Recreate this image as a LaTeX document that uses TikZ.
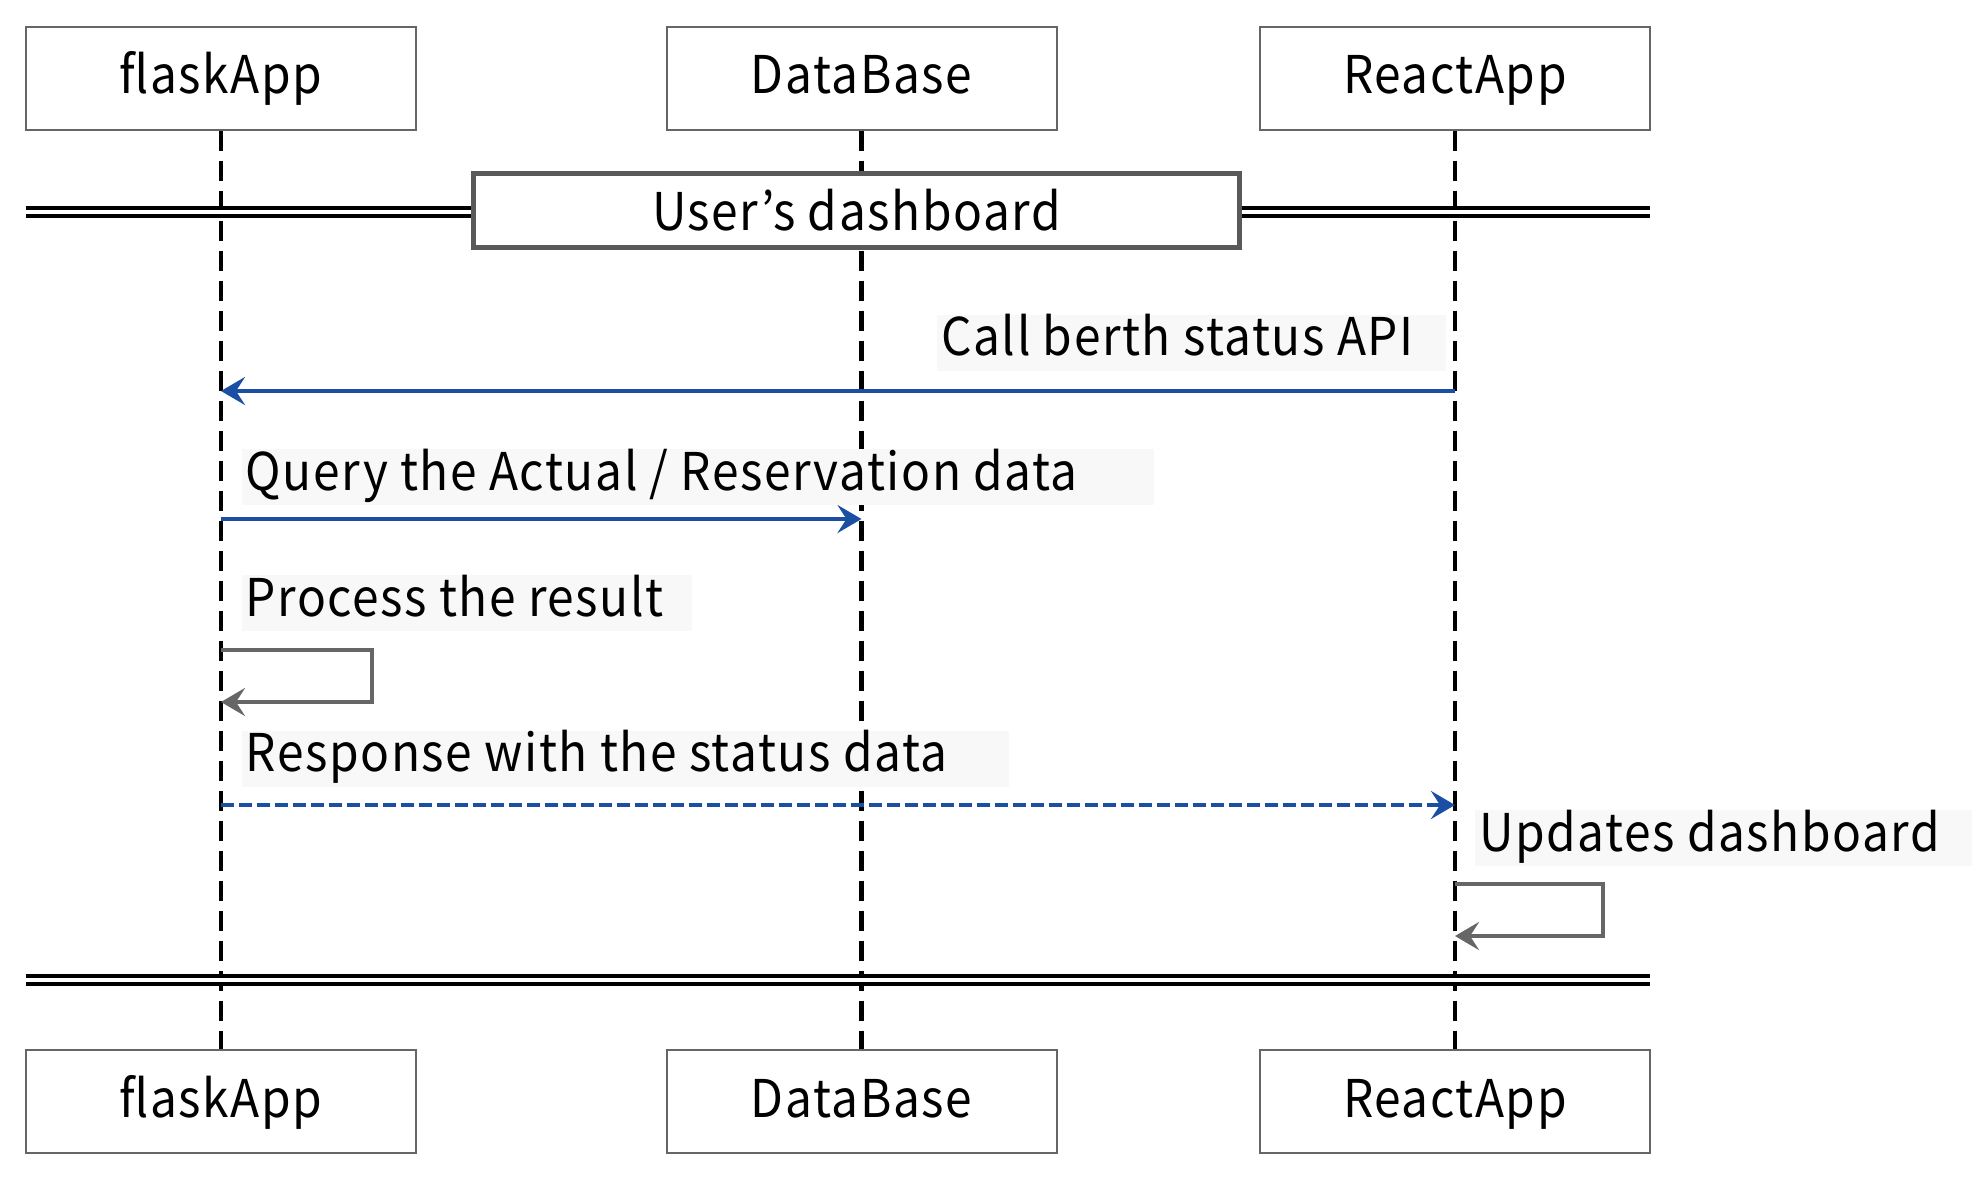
\documentclass[tikz,border=0pt]{standalone}
\usepackage{fontspec}
\setmainfont{Noto Sans CJK JP}[LetterSpace=3,FakeStretch=0.92]
\usetikzlibrary{arrows.meta}

\definecolor{boxgray}{HTML}{666666}
\definecolor{framegray}{HTML}{595959}
\definecolor{msgblue}{HTML}{1A4FA3}
\definecolor{labelbg}{HTML}{F8F8F8}

\tikzset{
  txt/.style={font=\fontsize{26}{30}\selectfont},
  actor/.style={txt, draw=boxgray, line width=1pt, fill=white,
    minimum width=195pt, minimum height=51.5pt, text height=20pt, text depth=4.5pt},
  lifeline/.style={draw=black, line width=2.2pt, dash pattern=on 10pt off 5pt},
  frame/.style={draw=black, line width=2pt, double=white, double distance=2pt},
  framebox/.style={txt, draw=framegray, line width=2.5pt, fill=white,
    minimum width=383pt, minimum height=37pt},
  tip/.style={-{Stealth[length=12pt,width=14pt,inset=4.5pt]}},
  msg/.style={draw=msgblue, line width=2.2pt, tip},
  reply/.style={msg, dash pattern=on 6.5pt off 2.5pt},
  selfmsg/.style={draw=boxgray, line width=2.2pt, tip},
  msglabel/.style={txt, anchor=south west, fill=labelbg, inner xsep=2pt,
    inner ysep=1.5pt, text height=19pt, text depth=6pt}
}

\begin{document}
\begin{tikzpicture}[x=0.5pt,y=-0.5pt]
  \useasboundingbox (0,0) rectangle (1972,1196);

  % participants
  \node[actor] (flaskTop) at (221,78) {flaskApp};
  \node[actor] (dbTop) at (861.5,78) {DataBase};
  \node[actor] (reactTop) at (1455,78) {ReactApp};
  \node[actor] (flaskBot) at (221,1101.5) {flaskApp};
  \node[actor] (dbBot) at (861.5,1101.5) {DataBase};
  \node[actor] (reactBot) at (1455,1101.5) {ReactApp};

  % lifelines
  \draw[lifeline] (flaskTop) -- (flaskBot);
  \draw[lifeline] (dbTop) -- (dbBot);
  \draw[lifeline] (reactTop) -- (reactBot);

  % frame separators
  \coordinate (sepL) at (26,212);
  \coordinate (sepR) at (1650,212);
  \coordinate (endL) at (26,980);
  \coordinate (endR) at (1650,980);
  \draw[frame] (sepL) -- (sepR);
  \draw[frame] (endL) -- (endR);
  \node[framebox] (dash) at (856.5,210.5) {User’s dashboard};

  % message points
  \coordinate (callR) at (1455,391);
  \coordinate (callF) at (221,391);
  \coordinate (queryF) at (221,519);
  \coordinate (queryD) at (861.5,519);
  \coordinate (procA) at (221,650);
  \coordinate (procB) at (221,702);
  \coordinate (respF) at (221,805);
  \coordinate (respR) at (1455,805);
  \coordinate (updA) at (1455,884);
  \coordinate (updB) at (1455,936);

  % messages
  \draw[msg] (callR) -- (callF);
  \node[msglabel] (callLbl) at (937,371) {Call berth status API\kern14pt};
  \draw[msg] (queryF) -- (queryD);
  \node[msglabel] (queryLbl) at (241.5,505.5) {Query the Actual / Reservation data\kern36pt};
  \draw[selfmsg] (procA) -- ++(151,0) |- (procB);
  \node[msglabel] (procLbl) at (241.5,631.5) {Process the result\kern12pt};
  \draw[reply] (respF) -- (respR);
  \node[msglabel] (respLbl) at (241.5,787) {Response with the status data\kern29pt};
  \draw[selfmsg] (updA) -- ++(148,0) |- (updB);
  \node[msglabel] (updLbl) at (1475,866.5) {Updates dashboard\kern20pt};
\end{tikzpicture}
\end{document}
